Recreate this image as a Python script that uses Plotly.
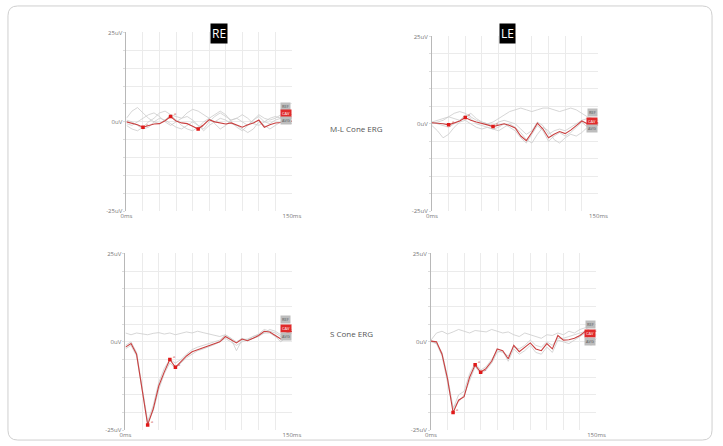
import plotly.graph_objects as go

# time axis (ms)
t = list(range(0, 151, 5))

# ---- M-L cone ERG, right eye (uV) ----
re_ml_avg = [0, -0.3, -0.8, -1.5, -1.0, -0.6, -0.5, 0.3, 1.5, 0.2, -0.3, -0.5, -1.2, -2.0, -0.8, 0.6,
             0.0, -0.3, -0.6, -0.3, -0.8, -1.5, -0.8, -0.3, 0.5, -1.5, -0.8, -0.3, -0.2, 0.0, 0.2]
re_ml_gray = [
    [1, 3, 4, 2.5, 1, 0, -0.5, 0.5, 2, 1.5, 1, 2.5, 3.5, 3, 2, 1, -0.5, -2, -1, 0.5, 1, 0, -1, 0.5, 2, 1, 0.5, 1, 2, 2.5, 2],
    [-1, -2, -2.5, -1.5, 0, 1, 2.5, 3, 2, 0.5, -1, -2, -2.5, -1.5, 0, 1, 2, 3, 2, 0, -1.5, -2.5, -1, 0.5, 1.5, 0, -0.5, 0.5, 1, 0.5, 0],
    [0.5, 0, -1, -2, -1.5, 0, 1, 0.5, -0.5, -1.5, -2, -1, 0, -1, -2.5, -1, 0, 1, 0.5, -0.5, -1, -2, -3, -2, 0, -1, -2, -1, 0, 0.5, 1],
    [-0.5, -1, 0, 1, 2, 2.5, 1.5, 0, -1, 0, 1, 1.5, 0.5, -1, -2, 0, 1.5, 2.5, 1.5, 0.5, 1, 2, 1, -0.5, -1, 0, 1, 1.5, 1, 0, -0.5],
]
re_ml_marks = [15, 40, 65]

# ---- M-L cone ERG, left eye ----
le_ml_avg = [0.3, 0.2, 0.0, -0.3, 0.2, 0.8, 1.8, 1.0, 0.5, 0.2, -0.3, -0.8, -0.5, 0.0, -0.5, -1.2,
             -3.5, -4.8, -2.5, 0.2, -1.5, -4.0, -3.0, -2.2, -2.8, -1.8, -0.5, 0.8, 0.0, 0.2, 0.3]
le_ml_gray = [
    [0.5, 1, 1.5, 2, 3, 3.5, 3, 2, 1, 0.5, 0, 0.5, 1.5, 2.5, 3.5, 4, 4.5, 4, 3.5, 4, 4.5, 4.5, 4, 3.5, 4, 4.5, 4, 3, 2, 1.5, 1],
    [-0.5, -2, -4, -3, -1, 0.5, 1, 0, -1, -1.5, -1, -1.5, -2, -1, 0, -1, -2.5, -4.5, -5.5, -3, -1, -2, -4.5, -5.5, -4, -3, -3.5, -2.5, -1, 0, -0.5],
    [0.5, 0, -0.5, -1, 0, 1, 2.5, 1.5, 0, -0.5, -1, -1.5, -1, 0, -1, -2, -4, -5.5, -3, -0.5, -2, -5, -3.5, -2.5, -3.5, -2.5, -1, 0.5, -1, -0.5, 0],
    [0, 0.5, 1, 2, 1.5, 1, 2, 3, 1.5, 0.5, 0, -0.5, 0.5, 1, 0.5, 0, -1.5, -3, -2, 0.5, -0.5, -3, -2, -1.5, -2, -1, 0, 1, 1.5, 0.5, 0],
]
le_ml_marks = [15, 30, 55]

# ---- S cone ERG, right eye ----
re_s_avg = [-1.5, -0.5, -3.5, -13.5, -23.5, -19.0, -12.5, -8.5, -5.0, -7.2, -5.5, -4.0, -2.8, -2.2, -1.7, -1.0,
            -0.5, 0.0, 1.5, 0.5, -0.3, 0.8, 0.3, 1.0, 1.8, 3.0, 2.8, 1.8, 0.8, 2.5, 3.0]
re_s_gray = [
    [2.5, 2.0, 2.5, 2.3, 2.0, 2.4, 2.6, 2.2, 2.5, 2.0, 2.3, 2.8, 2.5, 3.0, 2.6, 2.2, 2.0, 1.5, 2.0, 1.0, 0.0, 1.0, 0.5, 1.5, 2.0, 2.5, 3.5, 3.0, 2.0, 2.5, 3.0],
    [-1, 0.0, -3, -12.5, -22.5, -18, -11.5, -7.5, -5, -6, -5, -3.5, -2.2, -1.5, -1.0, -0.3, 0.2, 0.5, 2.0, 1.0, -2.5, 0.5, 0.8, 1.5, 2.2, 3.5, 3.0, 2.5, 1.5, 3.0, 3.5],
    [-2, -1.0, -4, -14, -23, -19.5, -13.5, -9, -6, -7.5, -6, -4.5, -3.5, -2.5, -2, -1.5, -0.8, 0.0, 1.0, 0.0, -1.0, 0.0, 0.5, 0.8, 1.5, 2.5, 2.5, 1.5, 0.0, 1.5, 2.5],
]
re_s_marks = [20, 40, 45]

# ---- S cone ERG, left eye ----
le_s_avg = [0.2, 0.0, -3.5, -10.5, -20.0, -16.5, -15.5, -10, -6.5, -8.6, -7.5, -5.5, -2.0, -2.5, -4.8, -1.0,
            -2.8, -1.5, -0.3, -2.0, -2.5, -0.5, -2.0, 1.8, 0.5, 0.6, 1.0, 1.8, 3.0, 3.2, 3.0]
le_s_gray = [
    [0.5, 2.5, 3.0, 2.2, 2.8, 3.5, 3.0, 2.5, 3.2, 3.0, 2.8, 3.5, 3.0, 2.5, 2.8, 2.0, 1.5, 2.5, 2.0, 1.5, 1.0, 2.0, 1.8, 2.5, 2.0, 3.0, 2.5, 3.5, 4.0, 3.0, 3.5],
    [0.5, -0.5, -4, -11.5, -19, -15, -14, -9, -6, -8, -7, -5, -2.5, -3, -4, -1.5, -2, -1, 0.5, -1, -1.5, 0, -1, 1, 1, 1.5, 2, 2.5, 3, 1.5, 2],
    [0, -0.5, -3, -10, -18.5, -17, -15, -11, -7, -9, -8, -6, -3, -2.5, -5.5, -2, -3.5, -2.5, -1, -3, -3.5, -1.5, -3, 0.5, 0, -0.5, 0.5, 1.5, 2.5, -1, 1],
]
le_s_marks = [20, 40, 45]

y_ticks = list(range(-25, 26, 5))
y_text = ["-25uV" if v == -25 else "0uV" if v == 0 else "25uV" if v == 25 else "" for v in y_ticks]
x_ticks = list(range(0, 151, 15))
x_text = ["0ms" if v == 0 else "150ms" if v == 150 else "" for v in x_ticks]

W, H = 723, 446
# panel layout in pixels: (left, right, top, bottom)
panels = [
    ("x", "y", (123, 292, 29, 211), re_ml_avg, re_ml_gray, re_ml_marks, (8, 15, 1)),
    ("x2", "y2", (435, 605, 33, 211), le_ml_avg, le_ml_gray, le_ml_marks, (1.5, 10, -6)),
    ("x3", "y3", (122, 292, 254, 434), re_s_avg, re_s_gray, re_s_marks, (3, 12, -5)),
    ("x4", "y4", (434, 603, 254, 434), le_s_avg, le_s_gray, le_s_marks, (-2, 7, -10)),
]

RED = "#c94040"
GRAY = "#cccccc"
GRID = "#ebebeb"

fig = go.Figure()
layout = dict(width=W, height=H, margin=dict(l=0, r=0, t=0, b=0), paper_bgcolor="white",
              plot_bgcolor="white", showlegend=False, font=dict(family="Open Sans, sans-serif"))
annotations = []

for xa, ya, (l, r, tp, bt), avg, grays, marks, (rs, gs_up, gs_dn) in panels:
    for g in grays:
        fig.add_trace(go.Scatter(x=t, y=g, mode="lines", line=dict(color=GRAY, width=0.8),
                                 xaxis=xa, yaxis=ya, hoverinfo="skip"))
    fig.add_trace(go.Scatter(x=t, y=avg, mode="lines", line=dict(color=RED, width=1.1),
                             xaxis=xa, yaxis=ya))
    mv = [avg[t.index(m)] for m in marks]
    fig.add_trace(go.Scatter(x=marks, y=mv, mode="markers", marker=dict(color="#e01818", size=3.5, symbol="square"),
                             xaxis=xa, yaxis=ya))
    xkey = "xaxis" if xa == "x" else "xaxis" + xa[1:]
    ykey = "yaxis" if ya == "y" else "yaxis" + ya[1:]
    layout[xkey] = dict(domain=[l / W, r / W], range=[0, 150], tickvals=x_ticks, ticktext=x_text,
                        showgrid=True, gridcolor=GRID, gridwidth=1, zeroline=False, showline=False,
                        tickfont=dict(size=6, color="#777"), anchor=ya, ticks="", ticklen=0)
    layout[ykey] = dict(domain=[1 - bt / H, 1 - tp / H], range=[-25, 25], tickvals=y_ticks, ticktext=y_text,
                        showgrid=True, gridcolor=GRID, gridwidth=1, zeroline=False, showline=True,
                        linecolor="#b8b8b8", linewidth=1, tickfont=dict(size=6, color="#777"),
                        anchor=xa, ticks="outside", ticklen=2, tickcolor="#dddddd")
    # end-of-trace labels
    for txt, bg, fc, ys in [("REF", "#bdbdbd", "#555", gs_up), ("CAV", "#e02a2a", "white", rs), ("AVG", "#bdbdbd", "#555", gs_dn)]:
        annotations.append(dict(x=t[-1], y=avg[-1], xref=xa, yref=ya, text=txt, showarrow=False,
                                font=dict(size=4, color=fc), bgcolor=bg, borderpad=1,
                                xshift=-6, yshift=ys))
    # small marker labels
    for m, v in zip(marks, mv):
        annotations.append(dict(x=m, y=v, xref=xa, yref=ya, text="a", showarrow=False,
                                font=dict(size=4, color="#c94040"), xshift=4, yshift=3))

# eye titles
for txt, xc in [("RE", 208), ("LE", 521)]:
    annotations.append(dict(x=xc / W, y=1 - 19.5 / H, xref="paper", yref="paper", text=txt, showarrow=False,
                            font=dict(size=12, color="white", family="Open Sans, sans-serif"),
                            bgcolor="black", borderpad=1))
# row labels
for txt, xc, yc in [("M-L Cone ERG", 358, 119), ("S Cone ERG", 353, 343)]:
    annotations.append(dict(x=xc / W, y=1 - yc / H, xref="paper", yref="paper", text=txt, showarrow=False,
                            font=dict(size=8, color="#555")))
layout["annotations"] = annotations

# rounded outer frame
x0, x1, y0, y1 = 2 / W, 721 / W, 2 / H, 444 / H
rx, ry = 10 / W, 10 / H
path = (f"M {x0+rx},{y0} L {x1-rx},{y0} Q {x1},{y0} {x1},{y0+ry} L {x1},{y1-ry} Q {x1},{y1} {x1-rx},{y1} "
        f"L {x0+rx},{y1} Q {x0},{y1} {x0},{y1-ry} L {x0},{y0+ry} Q {x0},{y0} {x0+rx},{y0} Z")
layout["shapes"] = [dict(type="path", path=path, xref="paper", yref="paper", line=dict(color="#cfcfcf", width=1))]

fig.update_layout(**layout)
fig.write_html("out.html")
